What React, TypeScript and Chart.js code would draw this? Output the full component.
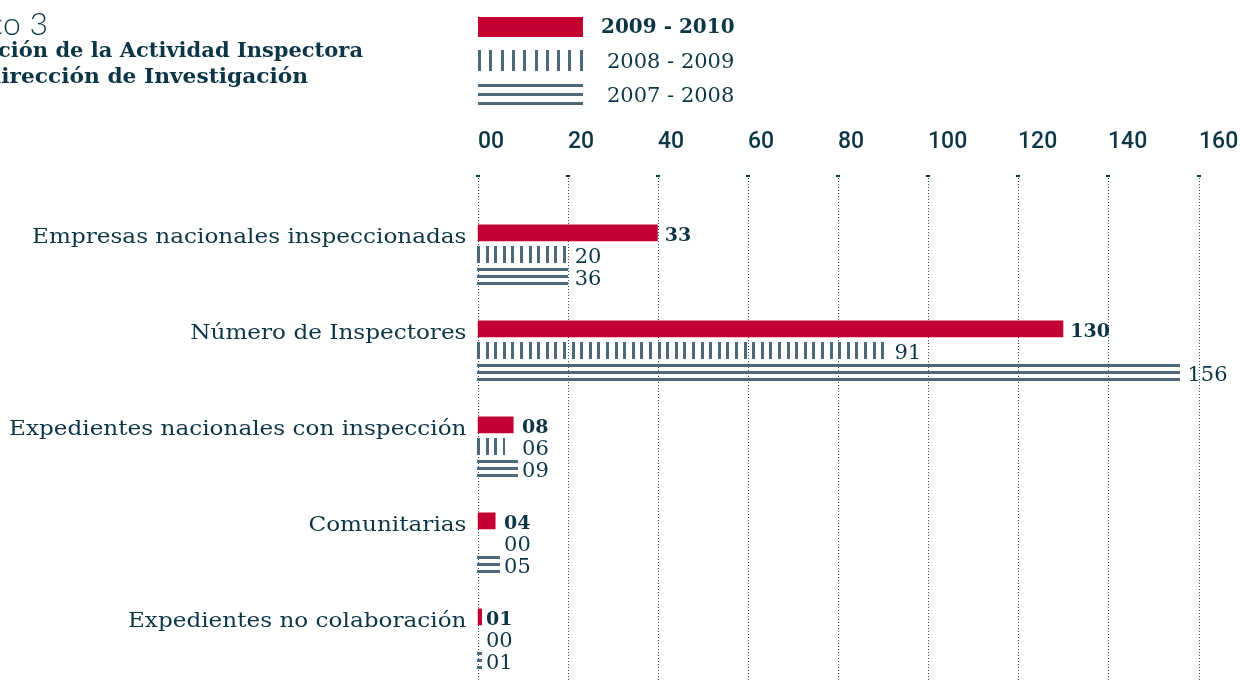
import { useEffect, useRef } from 'react';
import { Chart, registerables } from 'chart.js';

Chart.register(...registerables);

// ---------- data ----------
const categories = [
  'Empresas nacionales inspeccionadas',
  'Número de Inspectores',
  'Expedientes nacionales con inspección',
  'Comunitarias',
  'Expedientes no colaboración',
];
const seriesNames = ['2009 - 2010', '2008 - 2009', '2007 - 2008'];
// bar lengths as drawn in the picture
const values2010 = [40, 130, 8, 4, 1];
const values2009 = [20, 91, 6, 0, 0];
const values2008 = [20, 156, 9, 5, 1];
// printed value labels
const labels2010 = ['33', '130', '08', '04', '01'];
const labels2009 = ['20', '91', '06', '00', '00'];
const labels2008 = ['36', '156', '09', '05', '01'];
const xTickLabels = ['00', '20', '40', '60', '80', '100', '120', '140', '160'];
const titleLines = ['Gráfico 3', 'Evolución de la Actividad Inspectora', 'Subdirección de Investigación'];

// ---------- style ----------
const RED = '#c3002f';
const PAT = '#4e6a78';
const INK = '#0c3546';
const GRID = '#2f4d5c';
const SERIF = '"DejaVu Serif"';

const valueLabels = [labels2010, labels2009, labels2008];

function stretchedText(ctx: CanvasRenderingContext2D, text: string, xRight: number, y: number, sx: number) {
  ctx.save();
  ctx.translate(xRight, y);
  ctx.scale(sx, 1);
  ctx.textAlign = 'right';
  ctx.fillText(text, 0, 0);
  ctx.restore();
}

const deco = {
  id: 'deco',
  beforeDatasetsDraw(chart: any) {
    const ctx = chart.ctx as CanvasRenderingContext2D;
    const xs = chart.scales.x;
    ctx.save();
    xTickLabels.forEach((t) => {
      const x = Math.round(xs.getPixelForValue(Number(t))) + 0.5;
      ctx.fillStyle = INK;
      ctx.fillRect(x - 2.5, 175, 4, 2);
      ctx.strokeStyle = GRID;
      ctx.lineWidth = 1;
      ctx.setLineDash([1, 2]);
      ctx.beginPath();
      ctx.moveTo(x, 178);
      ctx.lineTo(x, chart.height);
      ctx.stroke();
    });
    ctx.restore();
  },
  afterDatasetsDraw(chart: any) {
    const ctx = chart.ctx as CanvasRenderingContext2D;
    ctx.save();
    ctx.fillStyle = PAT;
    // vertical stripes
    chart.getDatasetMeta(1).data.forEach((el: any) => {
      const { x, y, base, height } = el.getProps(['x', 'y', 'base', 'height'], true);
      const top = Math.round(y - height / 2);
      const h = Math.round(height);
      for (let k = 0; ; k++) {
        const sx = Math.round(base + k * 8.6 - 0.5);
        if (sx >= x - 0.5) break;
        ctx.fillRect(sx, top, Math.max(1, Math.min(3, Math.round(x - sx))), h);
      }
    });
    // horizontal lines
    chart.getDatasetMeta(2).data.forEach((el: any) => {
      const { x, y, base, height } = el.getProps(['x', 'y', 'base', 'height'], true);
      const top = Math.round(y - height / 2);
      const h = Math.round(height);
      const w = x - base;
      if (w <= 0) return;
      const bx = Math.round(base - 0.5);
      const bw = Math.max(1, Math.round(x) - bx);
      ctx.fillRect(bx, top, bw, 3);
      ctx.fillRect(bx, top + Math.round((h - 3) / 2), bw, 3);
      ctx.fillRect(bx, top + h - 3, bw, 3);
    });
    ctx.restore();
  },
  afterDraw(chart: any) {
    const ctx = chart.ctx as CanvasRenderingContext2D;
    const xs = chart.scales.x;
    ctx.save();
    ctx.fillStyle = INK;
    ctx.textBaseline = 'alphabetic';

    // title (clipped at the left edge as in the source)
    ctx.textAlign = 'right';
    ctx.font = '300 32px Lato';
    ctx.fillText(titleLines[0], 48, 35);
    ctx.font = `bold 21px ${SERIF}`;
    ctx.fillText(titleLines[1], 363, 57);
    stretchedText(ctx, titleLines[2], 308, 83, 1.035);

    // legend
    ctx.fillStyle = RED;
    ctx.fillRect(478, 17, 105, 20);
    ctx.fillStyle = PAT;
    for (let k = 0; k < 10; k++) ctx.fillRect(Math.round(478 + k * 11.3), 50, 3, 21);
    [84, 93, 102].forEach((yy) => ctx.fillRect(478, yy, 105, 3));
    ctx.fillStyle = INK;
    ctx.textAlign = 'left';
    ctx.font = `bold 20px ${SERIF}`;
    ctx.fillText(seriesNames[0], 601, 33);
    ctx.font = `21px ${SERIF}`;
    ctx.fillText(seriesNames[1], 607, 68);
    ctx.fillText(seriesNames[2], 607, 102);

    // x tick labels
    ctx.font = '500 23px Roboto';
    ctx.textAlign = 'left';
    xTickLabels.forEach((t) => {
      ctx.fillText(t, Math.round(xs.getPixelForValue(Number(t))), 148);
    });

    // category labels
    const metas = [0, 1, 2].map((d) => chart.getDatasetMeta(d));
    ctx.font = `20px ${SERIF}`;
    categories.forEach((c, i) => {
      const redY = metas[0].data[i].y;
      stretchedText(ctx, c, 466.5, redY + 10.5, 1.157);
    });

    // value labels
    ctx.textAlign = 'left';
    const allVals = [values2010, values2009, values2008];
    categories.forEach((_, i) => {
      const groupMax = Math.max(allVals[0][i], allVals[1][i], allVals[2][i]);
      const small = groupMax < 20;
      [0, 1, 2].forEach((d) => {
        const el = metas[d].data[i];
        const x = small ? xs.getPixelForValue(groupMax) + 4 : el.x + 7;
        ctx.font = d === 0 ? `bold 19px ${SERIF}` : `21px ${SERIF}`;
        ctx.fillText(valueLabels[d][i], x, el.y + 8.5);
      });
    });
    ctx.restore();
  },
};

export default function App() {
  const ref = useRef<HTMLCanvasElement>(null);
  useEffect(() => {
    document.body.style.margin = '0';
    document.body.style.overflow = 'hidden';
    const chart = new Chart(ref.current as HTMLCanvasElement, {
      type: 'bar',
      data: {
        labels: categories,
        datasets: [
          { label: seriesNames[0], data: values2010, backgroundColor: RED, borderWidth: 0 },
          { label: seriesNames[1], data: values2009, backgroundColor: 'rgba(0,0,0,0)', borderWidth: 0 },
          { label: seriesNames[2], data: values2008, backgroundColor: 'rgba(0,0,0,0)', borderWidth: 0 },
        ],
      },
      options: {
        indexAxis: 'y',
        responsive: false,
        animation: false,
        devicePixelRatio: 1,
        layout: { padding: { left: 0, right: 41.5, top: 0, bottom: 13.4 } },
        datasets: { bar: { categoryPercentage: 0.678, barPercentage: 0.77 } },
        plugins: { legend: { display: false }, tooltip: { enabled: false }, title: { display: false } },
        scales: {
          x: {
            type: 'linear',
            position: 'top',
            min: 0,
            max: 160,
            afterFit: (s: any) => { s.height = 206.6; },
            grid: { display: false, drawTicks: false },
            border: { display: false },
            ticks: { display: false, stepSize: 20 },
          },
          y: {
            type: 'category',
            afterFit: (s: any) => { s.width = 477.5; },
            grid: { display: false },
            border: { display: false },
            ticks: { display: false },
          },
        },
      },
      plugins: [deco],
    } as any);
    return () => chart.destroy();
  }, []);
  return (
    <div style={{ position: 'fixed', left: 0, top: 0, width: 1240, height: 700, background: '#fff' }}>
      <canvas ref={ref} width={1240} height={700} style={{ display: 'block', width: 1240, height: 700 }} />
    </div>
  );
}
